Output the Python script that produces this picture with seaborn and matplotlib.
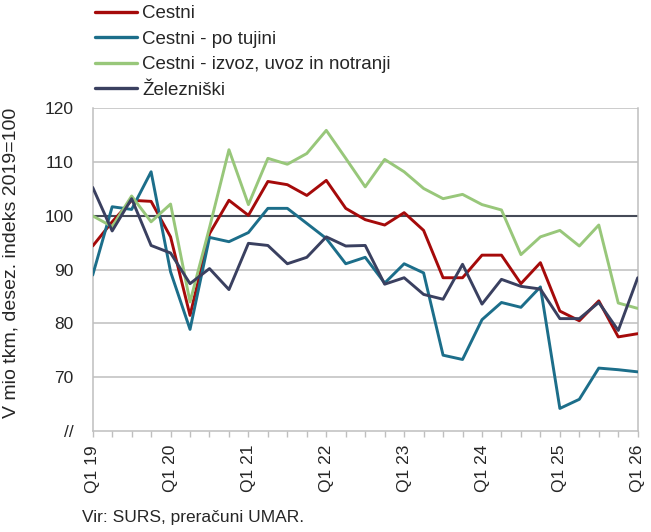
import matplotlib
matplotlib.use('Agg')
import matplotlib.pyplot as plt
import seaborn as sns
import numpy as np
import pandas as pd

years = [19, 20, 21, 22, 23, 24, 25, 26]
quarters = [f'Q{q} {y}' for y in years for q in range(1, 5)][:29]

cestni = [94.4, 98.9, 102.9, 102.7, 96.1, 81.5, 96.7, 102.9, 100.1, 106.4,
          105.8, 103.8, 106.6, 101.4, 99.3, 98.3, 100.6, 97.3, 88.5, 88.5,
          92.7, 92.7, 87.4, 91.3, 82.3, 80.5, 84.2, 77.5, 78.1]
po_tujini = [89.0, 101.7, 101.2, 108.2, 89.6, 78.9, 96.0, 95.2, 96.9, 101.4,
             101.4, 98.6, 95.8, 91.1, 92.3, 87.5, 91.1, 89.4, 74.1, 73.3,
             80.7, 83.9, 83.0, 86.8, 64.2, 65.9, 71.7, 71.4, 71.0]
izvoz_uvoz = [100.0, 98.0, 103.7, 98.9, 102.2, 84.0, 97.8, 112.3, 102.1, 110.7,
              109.6, 111.6, 115.9, 110.7, 105.4, 110.5, 108.2, 105.1, 103.2, 104.0,
              102.1, 101.1, 92.8, 96.1, 97.3, 94.4, 98.3, 83.8, 82.8]
zelezniski = [105.3, 97.2, 103.2, 94.5, 93.1, 87.4, 90.2, 86.3, 94.9, 94.5,
              91.1, 92.3, 96.1, 94.4, 94.5, 87.3, 88.5, 85.4, 84.5, 91.0,
              83.6, 88.2, 86.9, 86.4, 80.9, 80.9, 83.9, 78.7, 88.5]

series = ['Cestni', 'Cestni - po tujini', 'Cestni - izvoz, uvoz in notranji', 'Železniški']
colors = ['#A50A0A', '#1C6E8A', '#98C77A', '#3A4060']

df = pd.DataFrame({
    'x': list(range(len(quarters))) * 4,
    'value': cestni + po_tujini + izvoz_uvoz + zelezniski,
    'serija': np.repeat(series, len(quarters)),
})

sns.set_style('white')
plt.rcParams['font.family'] = ['Liberation Sans', 'DejaVu Sans']

fig = plt.figure(figsize=(6.51, 5.32), dpi=100)
ax = fig.add_axes([0.1424, 0.1898, 0.8372, 0.6066])

# grid first, so lines sit on top
for v in [70, 80, 90, 110, 120]:
    ax.axhline(v, color='#BFBFBF', lw=1.1, zorder=0)
ax.axhline(100, color='#454A57', lw=1.5, zorder=1)

sns.lineplot(data=df, x='x', y='value', hue='serija', hue_order=series,
             palette=colors, linewidth=2.1, ax=ax, legend=False, zorder=3)

ax.set_xlim(0, len(quarters) - 1)
ax.set_ylim(60, 120)
ax.set_yticks(range(60, 121, 10))
ax.set_yticklabels(['//'] + [str(v) for v in range(70, 121, 10)])
ax.set_xticks(range(len(quarters)))
ax.set_xticklabels([q if q.startswith('Q1') else '' for q in quarters], rotation=90)
ax.tick_params(axis='y', length=0, pad=14, labelsize=12.5)
ax.tick_params(axis='x', length=4, width=1, color='#BFBFBF', pad=6, labelsize=12.5,
               direction='out', bottom=True)
for s in ax.spines.values():
    s.set_color('#BFBFBF')
    s.set_linewidth(1.1)
ax.spines['top'].set_visible(False)
ax.set_xlabel('')
ax.set_ylabel('V mio tkm, desez. indeks 2019=100', fontsize=14, labelpad=4)
ax.yaxis.set_label_coords(-0.135, 0.52)

handles = [plt.Line2D([], [], color=c, lw=2.4) for c in colors]
fig.legend(handles, series, loc='upper left', bbox_to_anchor=(95 / 651, 1 - 5 / 532),
           frameon=False, fontsize=13.5, handlelength=2.24, handletextpad=0.27,
           labelspacing=0.45, borderpad=0, borderaxespad=0)

fig.text(82 / 651, 1 - 522 / 532, 'Vir: SURS, preračuni UMAR.', fontsize=12.5,
         va='baseline')

fig.savefig('out.png', dpi=100)
